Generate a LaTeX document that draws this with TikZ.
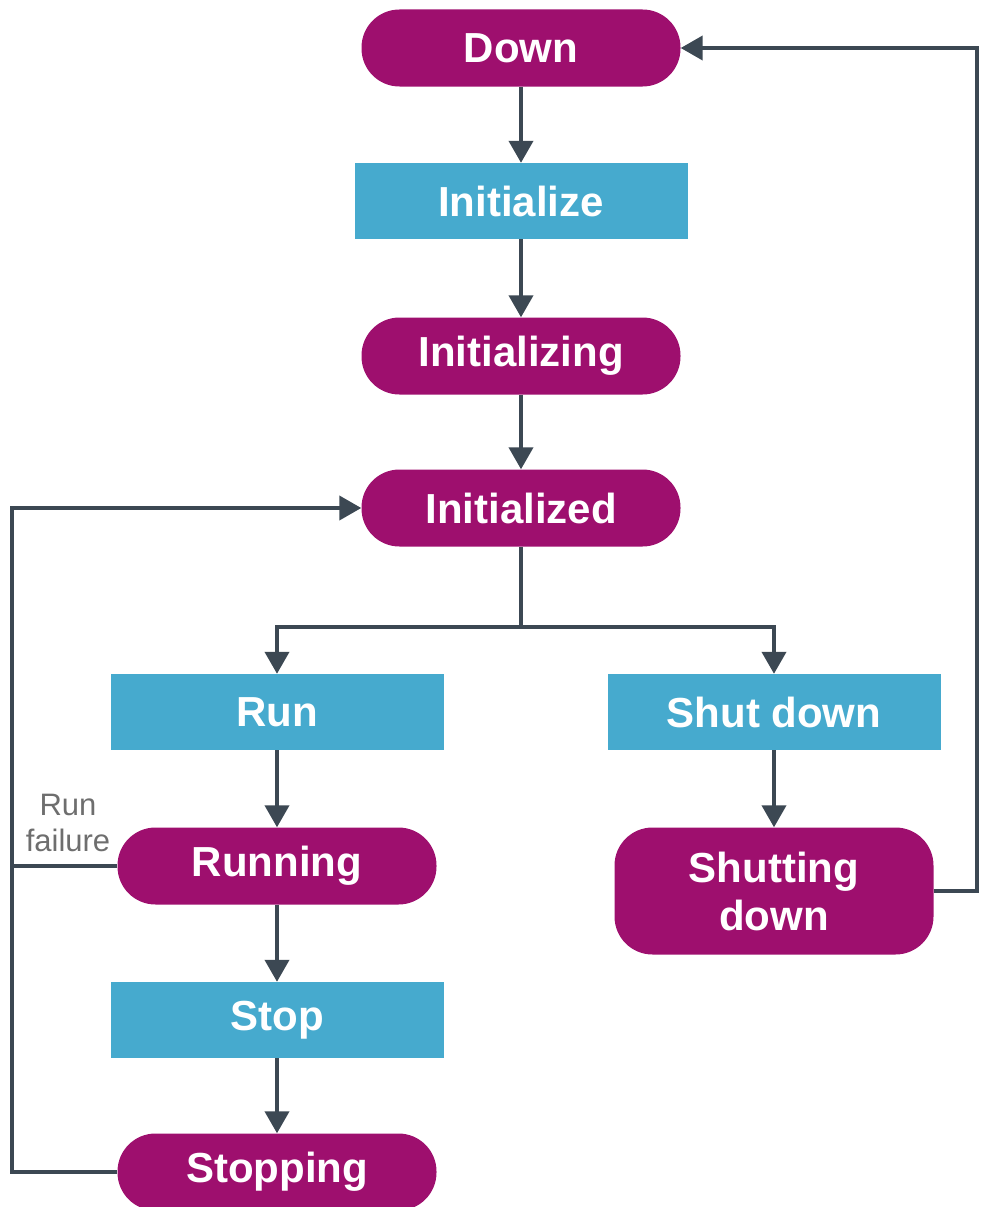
\documentclass[tikz,border=0pt]{standalone}
\usepackage{fontspec}
\setmainfont{Liberation Sans}
\usetikzlibrary{arrows.meta}
\definecolor{mag}{HTML}{9E0F6E}
\definecolor{cy}{HTML}{46AACE}
\definecolor{ln}{HTML}{3C4853}
\definecolor{lbl}{HTML}{6E6E6E}
\begin{document}
\begin{tikzpicture}[x=1pt,y=-1pt,
  state/.style={fill=mag, draw=none, rounded corners=38pt, minimum width=319pt, minimum height=77pt, text=white, font=\bfseries\fontsize{42}{48}\selectfont, inner sep=0pt},
  act/.style={fill=cy, draw=none, minimum width=333pt, minimum height=76pt, text=white, font=\bfseries\fontsize{42}{48}\selectfont, inner sep=0pt},
  conn/.style={draw=ln, line width=4pt, -{Triangle[length=22pt,width=24pt]}},
  plain/.style={draw=ln, line width=4pt}]
\useasboundingbox (0,0) rectangle (980,1207);
\node[state] (down) at (521,48) {Down};
\node[act] (init) at (521,201) {Initialize};
\node[state] (initing) at (521,356) {Initializing};
\node[state] (inited) at (521,508) {Initialized};
\node[act] (run) at (277,712) {Run};
\node[act] (shut) at (774,712) {Shut down};
\node[state] (running) at (277,866) {Running};
\node[state, minimum height=127pt, align=center] (shutting) at (774,891) {Shutting\\down};
\node[state] (stopping) at (277,1172) {Stopping};
\node[act] (stop) at (277,1020) {Stop};
\node[text=lbl, font=\fontsize{31}{36}\selectfont, align=center, inner sep=0pt] (rf) at (68,823) {Run\\failure};
\coordinate (br) at (521,627);
\coordinate (lc) at (12,508);
\coordinate (rc) at (977,48);
\draw[conn] (down) -- (init);
\draw[conn] (init) -- (initing);
\draw[conn] (initing) -- (inited);
\draw[plain] (inited.south) -- (br);
\draw[conn] (br) -| (run.north);
\draw[conn] (br) -| (shut.north);
\draw[conn] (run) -- (running);
\draw[conn] (running) -- (stop);
\draw[conn] (stop) -- (stopping);
\draw[conn] (shut) -- (shutting);
\draw[conn] (stopping.west) -| (lc) -- (inited.west);
\draw[plain] (running.west) -- (running.west -| lc);
\draw[conn] (shutting.east) -| (rc) -- (down.east);
\end{tikzpicture}
\end{document}
